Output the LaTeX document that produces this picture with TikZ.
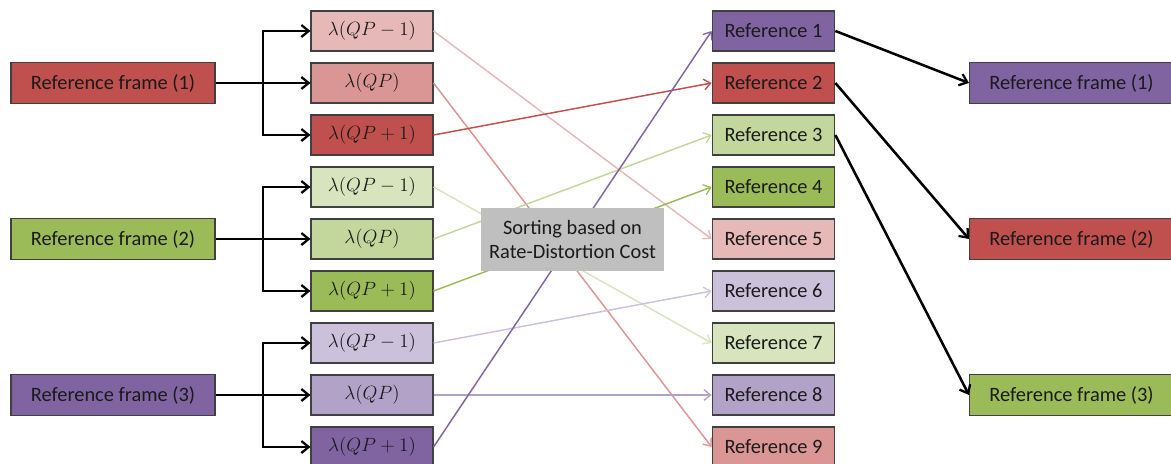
\documentclass[tikz,border=0pt]{standalone}
\usepackage{fontspec}
\setmainfont{Carlito}
\usetikzlibrary{arrows.meta}
\definecolor{rD}{HTML}{C0504D}
\definecolor{rM}{HTML}{D99694}
\definecolor{rL}{HTML}{E6B9B8}
\definecolor{gD}{HTML}{9BBB59}
\definecolor{gM}{HTML}{C3D69B}
\definecolor{gL}{HTML}{D7E4BD}
\definecolor{pD}{HTML}{8064A2}
\definecolor{pM}{HTML}{B3A2C7}
\definecolor{pL}{HTML}{CCC1DA}
\definecolor{bordc}{HTML}{404040}
\definecolor{sortc}{HTML}{BFBFBF}
\definecolor{txt}{HTML}{1A1A1A}
\tikzset{
  box/.style={draw=bordc, line width=0.8pt, inner sep=0pt, text=txt, font=\fontsize{15.3}{18}\selectfont},
  frame/.style={box, minimum width=153pt, minimum height=30.5pt},
  lam/.style={box, minimum width=91.5pt, minimum height=30pt},
  refb/.style={box, minimum width=92pt, minimum height=30pt},
  blk/.style={draw=black, line width=1.9pt, -{Straight Barb[length=5.5pt,width=9pt,line width=1.7pt]}},
  col/.style={line width=1.1pt, -{Straight Barb[length=5pt,width=8pt,line width=1pt]}},
}
\begin{document}
\begin{tikzpicture}[x=0.75pt,y=-0.75pt]
\useasboundingbox (0,0) rectangle (1171,464);
% left frames
\node[frame, fill=rD] (f1) at (113,83) {Reference frame (1)};
\node[frame, fill=gD] (f2) at (113,239) {Reference frame (2)};
\node[frame, fill=pD] (f3) at (113,395) {Reference frame (3)};
% lambda boxes
\node[lam, fill=rL] (l1) at (372,31) {$\lambda(QP-1)$};
\node[lam, fill=rM] (l2) at (372,83) {$\lambda(QP)$};
\node[lam, fill=rD] (l3) at (372,135) {$\lambda(QP+1)$};
\node[lam, fill=gL] (l4) at (372,187) {$\lambda(QP-1)$};
\node[lam, fill=gM] (l5) at (372,239) {$\lambda(QP)$};
\node[lam, fill=gD] (l6) at (372,291) {$\lambda(QP+1)$};
\node[lam, fill=pL] (l7) at (372,343) {$\lambda(QP-1)$};
\node[lam, fill=pM] (l8) at (372,395) {$\lambda(QP)$};
\node[lam, fill=pD] (l9) at (372,447) {$\lambda(QP+1)$};
% reference boxes
\node[refb, fill=pD] (r1) at (773.5,31) {Reference 1};
\node[refb, fill=rD] (r2) at (773.5,83) {Reference 2};
\node[refb, fill=gM] (r3) at (773.5,135) {Reference 3};
\node[refb, fill=gD] (r4) at (773.5,187) {Reference 4};
\node[refb, fill=rL] (r5) at (773.5,239) {Reference 5};
\node[refb, fill=pL] (r6) at (773.5,291) {Reference 6};
\node[refb, fill=gL] (r7) at (773.5,343) {Reference 7};
\node[refb, fill=pM] (r8) at (773.5,395) {Reference 8};
\node[refb, fill=rM] (r9) at (773.5,447) {Reference 9};
% right frames
\node[frame, fill=pD] (o1) at (1071.5,83) {Reference frame (1)};
\node[frame, fill=rD] (o2) at (1071.5,239) {Reference frame (2)};
\node[frame, fill=gD] (o3) at (1071.5,395) {Reference frame (3)};
% branching arrows
\coordinate (j1) at (263,83);
\coordinate (j2) at (263,239);
\coordinate (j3) at (263,395);
\draw[blk] (f1.east) -- (l2.west);
\draw[blk] (j1) |- (l1.west);
\draw[blk] (j1) |- (l3.west);
\draw[blk] (f2.east) -- (l5.west);
\draw[blk] (j2) |- (l4.west);
\draw[blk] (j2) |- (l6.west);
\draw[blk] (f3.east) -- (l8.west);
\draw[blk] (j3) |- (l7.west);
\draw[blk] (j3) |- (l9.west);
% sorting connectors
\draw[col, draw=rL] (l1.east) -- (r5.west);
\draw[col, draw=rM] (l2.east) -- (r9.west);
\draw[col, draw=rD] (l3.east) -- (r2.west);
\draw[col, draw=gL] (l4.east) -- (r7.west);
\draw[col, draw=gM] (l5.east) -- (r3.west);
\draw[col, draw=gD] (l6.east) -- (r4.west);
\draw[col, draw=pL] (l7.east) -- (r6.west);
\draw[col, draw=pM] (l8.east) -- (r8.west);
\draw[col, draw=pD] (l9.east) -- (r1.west);
% sorting box
\node[fill=sortc, text=txt, minimum width=137.25pt, minimum height=47.25pt, inner sep=0pt, align=center, font=\fontsize{15.3}{18.5}\selectfont] (sort) at (572.5,239.5) {Sorting based on\\Rate-Distortion Cost};
% output arrows
\draw[blk] (r1.east) -- (o1.west);
\draw[blk] (r2.east) -- (o2.west);
\draw[blk] (r3.east) -- (o3.west);
\end{tikzpicture}
\end{document}
